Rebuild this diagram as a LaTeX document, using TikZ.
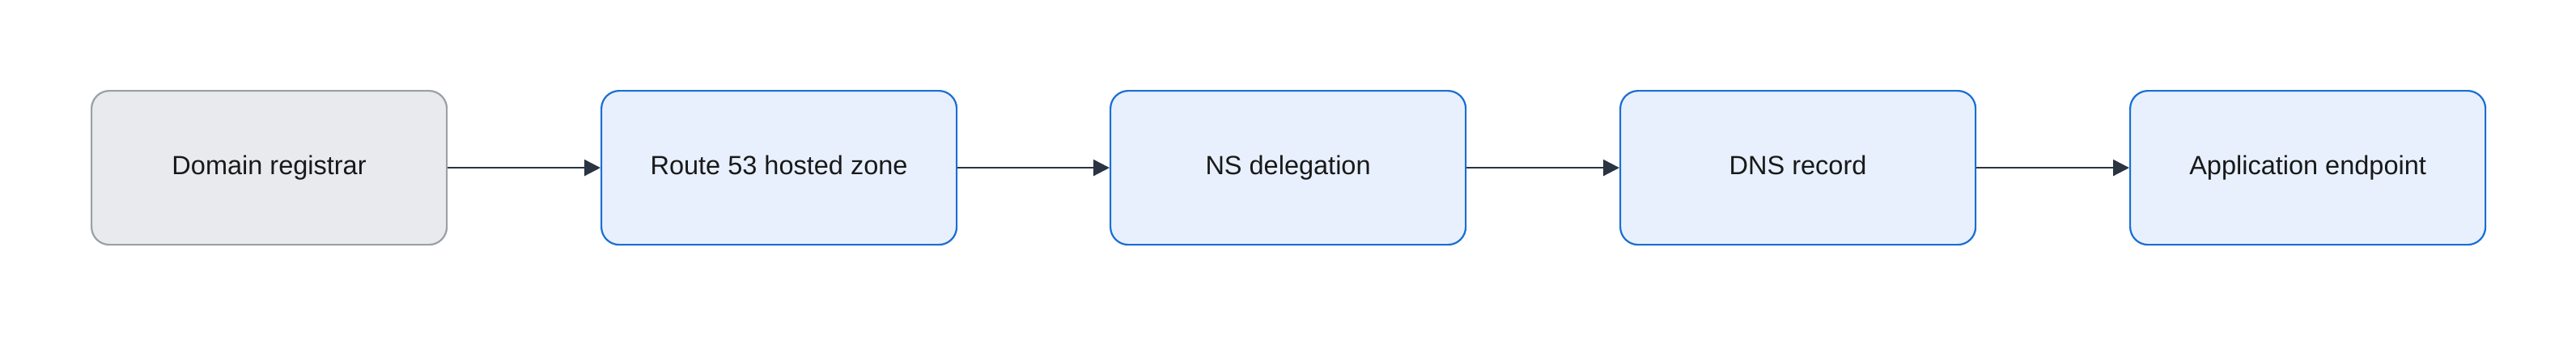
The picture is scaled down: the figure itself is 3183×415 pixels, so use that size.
\documentclass[tikz,border=0pt]{standalone}
\usepackage{fontspec}
\setmainfont{Liberation Sans}
\usetikzlibrary{arrows.meta}
\definecolor{gfill}{HTML}{E8EAED}
\definecolor{gline}{HTML}{9AA0A6}
\definecolor{bfill}{HTML}{E8F0FE}
\definecolor{bline}{HTML}{1A6FD1}
\definecolor{arr}{HTML}{2A3442}
\begin{document}
\begin{tikzpicture}[x=1pt,y=-1pt,
  box/.style={draw, line width=2.2pt, rounded corners=22pt, minimum width=439pt, minimum height=190pt, anchor=north west, font=\fontsize{32.5}{36}\selectfont, text=black!90, text height=23pt, text depth=7pt},
  gbox/.style={box, fill=gfill, draw=gline},
  bbox/.style={box, fill=bfill, draw=bline},
  con/.style={draw=arr, line width=2.4pt, -{Triangle[length=20pt,width=20pt]}}]
\useasboundingbox (0,0) rectangle (3183,415);
\node[gbox] (a) at (112,111) {Domain registrar};
\node[bbox] (b) at (742,111) {Route 53 hosted zone};
\node[bbox] (c) at (1371,111) {NS delegation};
\node[bbox] (d) at (2001,111) {DNS record};
\node[bbox] (e) at (2631,111) {Application endpoint};
\draw[con] (a) -- (b);
\draw[con] (b) -- (c);
\draw[con] (c) -- (d);
\draw[con] (d) -- (e);
\end{tikzpicture}
\end{document}
